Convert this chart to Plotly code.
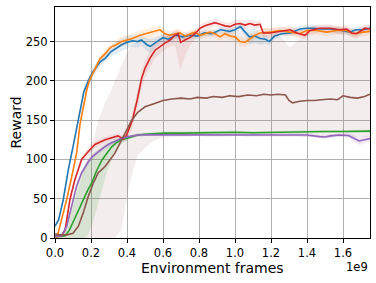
import plotly.graph_objects as go

# x values in units of 1e9 environment frames
blue_x = [0, 0.02, 0.046, 0.074, 0.10, 0.13, 0.16, 0.185, 0.21, 0.25, 0.28, 0.31, 0.34, 0.37, 0.40,
          0.43, 0.46, 0.48, 0.51, 0.53, 0.56, 0.60, 0.63, 0.67, 0.71, 0.75, 0.79, 0.83, 0.87, 0.92,
          0.97, 1.0, 1.03, 1.06, 1.08, 1.11, 1.14, 1.17, 1.19, 1.22, 1.26, 1.31, 1.36, 1.4, 1.44,
          1.48, 1.53, 1.57, 1.61, 1.64, 1.67, 1.71, 1.75]
blue_y = [15, 23, 49, 87, 116, 150, 186, 200, 211, 224, 229, 237, 242, 246, 249,
          251, 250, 252, 246, 244, 249, 255, 253, 258, 256, 258, 257, 261, 260, 265,
          263, 265, 269, 262, 256, 257, 254, 253, 250, 257, 260, 261, 266, 267, 267,
          266, 266, 265, 263, 262, 265, 265, 267]
blue_sd = [3, 3, 3, 3, 3, 4, 5, 6, 6, 5, 5, 6, 8, 8, 8, 8, 8, 7, 8, 9, 6, 5, 5, 5, 5, 4, 4, 4, 4, 4,
           4, 4, 4, 6, 10, 9, 8, 6, 5, 4, 4, 4, 4, 4, 4, 4, 4, 4, 4, 4, 4, 4, 4]

orange_x = [0.01, 0.037, 0.065, 0.093, 0.12, 0.139, 0.16, 0.176, 0.19, 0.22, 0.25, 0.28, 0.31, 0.34,
            0.37, 0.40, 0.43, 0.472, 0.528, 0.583, 0.611, 0.639, 0.667, 0.694, 0.722, 0.75, 0.778,
            0.806, 0.833, 0.861, 0.889, 0.917, 0.944, 0.972, 1.0, 1.028, 1.056, 1.083, 1.111, 1.139,
            1.194, 1.25, 1.306, 1.36, 1.398, 1.454, 1.51, 1.565, 1.62, 1.657, 1.713, 1.75]
orange_y = [0, 23, 49, 78, 108, 145, 170, 188, 200, 215, 228, 235, 243, 246,
            250, 252, 254, 258, 262, 265, 260, 258, 260, 261, 257, 260, 262,
            258, 260, 262, 260, 256, 260, 257, 256, 250, 249, 253, 258, 261,
            262, 264, 262, 260, 264, 264, 262, 264, 264, 260, 262, 263]
orange_sd = [2, 3, 3, 3, 4, 5, 5, 5, 5, 5, 5, 5, 5, 6, 6, 6, 6, 6, 6, 6, 5, 5, 5, 5, 5, 5, 5,
             5, 5, 5, 5, 5, 5, 5, 5, 6, 6, 5, 5, 5, 5, 5, 5, 5, 5, 5, 5, 5, 5, 5, 5, 5]

green_x = [0, 0.03, 0.056, 0.08, 0.1, 0.12, 0.139, 0.16, 0.18, 0.204, 0.23, 0.26, 0.29, 0.315, 0.34,
           0.37, 0.4, 0.426, 0.46, 0.5, 0.55, 0.61, 0.7, 0.8, 0.9, 1.0, 1.1, 1.2, 1.3, 1.4, 1.5,
           1.6, 1.7, 1.75]
green_y = [2, 2, 3, 10, 20, 30, 40, 52, 60, 70, 85, 99, 108, 116, 121,
           125, 127, 129, 131, 132, 133, 133.5, 133.5, 134, 134, 134.5, 134, 134.5, 135, 135, 135.5,
           135.5, 136, 136]
green_lo = [0, 0, 0, 0, 0, 0, 0, 0, 3, 15, 35, 60, 85, 100, 112,
            120, 124, 127, 129, 130, 131, 132, 132, 132, 132, 133, 132, 133, 133, 133, 134,
            134, 134, 134]
green_hi = [3, 5, 10, 30, 48, 62, 75, 90, 98, 105, 111, 116, 120, 123, 126,
            128, 130, 131, 133, 134, 135, 135.5, 135.5, 136, 136, 136.5, 136, 136.5, 137, 137, 137.5,
            137.5, 138, 138]

red_x = [0, 0.037, 0.056, 0.083, 0.11, 0.148, 0.185, 0.222, 0.278, 0.333, 0.35, 0.365, 0.38, 0.398,
         0.417, 0.43, 0.457, 0.481, 0.5, 0.528, 0.556, 0.583, 0.611, 0.639, 0.667, 0.685, 0.698,
         0.722, 0.75, 0.778, 0.806, 0.833, 0.861, 0.889, 0.917, 0.944, 0.972, 1.0, 1.028, 1.056,
         1.083, 1.11, 1.139, 1.157, 1.194, 1.25, 1.306, 1.343, 1.389, 1.417, 1.472, 1.528, 1.583,
         1.62, 1.648, 1.676, 1.722, 1.75]
red_y = [2, 3, 10, 49, 74, 100, 110, 119, 125, 129, 130, 128, 126, 131,
         142, 150, 176, 203, 216, 229, 239, 244, 248, 252, 258, 260, 249,
         252, 255, 260, 267, 270, 272, 274, 272, 270, 269, 272, 273, 271,
         273, 271, 272, 261, 261, 263, 265, 261, 258, 264, 267, 267, 265,
         266, 261, 260, 267, 266]
red_sd_lo = [1, 1, 3, 5, 5, 5, 5, 4, 4, 3, 3, 3, 4, 5, 8, 10, 12, 12, 12, 12, 10, 10, 8, 8, 13,
             35, 35, 20, 10, 6, 5, 5, 5, 5, 5, 5, 5, 5, 5, 5, 5, 5, 5, 6, 6, 5, 5, 5, 5, 5, 5,
             5, 5, 5, 5, 5, 5, 5]
red_sd_hi = [2, 2, 3, 5, 5, 5, 5, 4, 4, 3, 3, 3, 4, 5, 8, 10, 10, 10, 10, 10, 10, 10, 8, 8, 6,
             6, 8, 6, 6, 5, 5, 5, 5, 5, 5, 5, 5, 5, 5, 5, 5, 5, 5, 6, 6, 5, 5, 5, 5, 5, 5,
             5, 5, 5, 5, 5, 5, 5]

purple_x = [0, 0.037, 0.065, 0.093, 0.12, 0.148, 0.185, 0.21, 0.24, 0.27, 0.296, 0.33, 0.37, 0.41,
            0.46, 0.52, 0.6, 0.7, 0.8, 0.9, 1.0, 1.1, 1.2, 1.3, 1.4, 1.47, 1.5, 1.53, 1.58, 1.63,
            1.66, 1.69, 1.72, 1.75]
purple_y = [2, 3, 15, 40, 66, 83, 97, 104, 110, 115, 119, 123, 127, 129,
            131, 131.5, 131.5, 131.5, 131, 131.5, 131.5, 131, 131.5, 131.5, 131, 129, 128.5, 130,
            131, 130.5, 127, 123.5, 125, 126.5]
purple_sd = [1, 1, 3, 4, 4, 4, 4, 3, 3, 3, 3, 3, 2, 2, 2, 1.5, 1.5, 1.5, 1.5, 1.5, 1.5, 1.5,
             1.5, 1.5, 2, 2, 2, 2, 2, 3, 4, 5, 5, 4]

brown_x = [0, 0.03, 0.065, 0.1, 0.13, 0.157, 0.185, 0.213, 0.24, 0.278, 0.306, 0.333, 0.37, 0.398,
           0.426, 0.46, 0.5, 0.55, 0.6, 0.65, 0.7, 0.75, 0.79, 0.84, 0.88, 0.93, 0.97, 1.02, 1.07,
           1.12, 1.16, 1.2, 1.24, 1.28, 1.3, 1.32, 1.36, 1.4, 1.44, 1.48, 1.53, 1.57, 1.6, 1.64,
           1.68, 1.72, 1.75]
brown_y = [5, 4, 4, 6, 15, 32, 53, 70, 83, 91, 99.5, 108, 125, 138,
           150, 160, 167, 171, 175, 177, 178, 177, 179, 178, 180, 179, 181, 180, 182,
           181, 183, 182, 183, 182, 175, 172, 174, 175, 175, 176, 177, 176, 181, 179,
           178, 180, 183]
brown_lo = [0, 0, 0, 0, 0, 0, 0, 0, 0, 0, 0, 0, 10, 50,
            80, 105, 115, 124, 128, 129, 129, 129, 130, 129, 129, 129, 129, 130, 129,
            129, 129, 129, 129, 129, 129, 129, 129, 129, 129, 128, 128, 129, 129, 129,
            129, 129, 129]
brown_hi = [5, 6, 12, 40, 62, 85, 105, 125, 150, 172, 185, 200, 220, 235,
            245, 252, 255, 257, 258, 258, 256, 259, 260, 261, 262, 262, 263, 264, 262,
            260, 258, 258, 258, 250, 243, 245, 255, 260, 262, 263, 263, 262, 263, 262,
            260, 262, 262]

x_ticks = [0.0, 0.2, 0.4, 0.6, 0.8, 1.0, 1.2, 1.4, 1.6]
x_tick_labels = ["0.0", "0.2", "0.4", "0.6", "0.8", "1.0", "1.2", "1.4", "1.6"]
y_ticks = [0, 50, 100, 150, 200, 250]

series = [
    ("blue", "#1f77b4", (31, 119, 180), blue_x, blue_y,
     [y - s for y, s in zip(blue_y, blue_sd)], [y + s for y, s in zip(blue_y, blue_sd)], 0.12),
    ("orange", "#ff7f0e", (255, 127, 14), orange_x, orange_y,
     [y - s for y, s in zip(orange_y, orange_sd)], [y + s for y, s in zip(orange_y, orange_sd)], 0.12),
    ("green", "#2ca02c", (44, 160, 44), green_x, green_y, green_lo, green_hi, 0.14),
    ("red", "#d62728", (214, 39, 40), red_x, red_y,
     [y - s for y, s in zip(red_y, red_sd_lo)], [y + s for y, s in zip(red_y, red_sd_hi)], 0.1),
    ("purple", "#9467bd", (148, 103, 189), purple_x, purple_y,
     [y - s for y, s in zip(purple_y, purple_sd)], [y + s for y, s in zip(purple_y, purple_sd)], 0.15),
    ("brown", "#8c564b", (140, 86, 75), brown_x, brown_y, brown_lo, brown_hi, 0.1),
]

fig = go.Figure()
for name, col, rgb, xs, ys, lo, hi, a in series:
    fig.add_trace(go.Scatter(
        x=list(xs) + list(xs)[::-1], y=list(hi) + list(lo)[::-1],
        fill="toself", fillcolor=f"rgba({rgb[0]},{rgb[1]},{rgb[2]},{a})",
        line=dict(width=0), mode="lines", hoverinfo="skip", showlegend=False))
for name, col, rgb, xs, ys, lo, hi, a in series:
    fig.add_trace(go.Scatter(x=xs, y=ys, mode="lines", name=name,
                             line=dict(color=col, width=1.6), showlegend=False))

axis_common = dict(showgrid=True, gridcolor="#b0b0b0", gridwidth=0.8, showline=True,
                   linecolor="black", linewidth=1, mirror=True, ticks="outside", ticklen=4,
                   tickcolor="black", zeroline=False, automargin=False,
                   tickfont=dict(family="DejaVu Sans", size=11.5, color="black"))
fig.update_xaxes(range=[0, 1.75], tickvals=x_ticks, ticktext=x_tick_labels, **axis_common)
fig.update_yaxes(range=[0, 294], tickvals=y_ticks, **axis_common)

fig.update_layout(
    width=376, height=283, margin=dict(l=55, r=6, t=7, b=45, autoexpand=False),
    paper_bgcolor="white", plot_bgcolor="white",
    font=dict(family="DejaVu Sans", color="black"),
    annotations=[
        dict(text="Environment frames", xref="paper", yref="paper", x=0.5, y=0,
             xanchor="center", yanchor="middle", yshift=-30, showarrow=False,
             font=dict(size=14, family="DejaVu Sans", color="black")),
        dict(text="Reward", xref="paper", yref="paper", x=0, y=0.5, xshift=-40,
             xanchor="center", yanchor="middle", textangle=-90, showarrow=False,
             font=dict(size=14, family="DejaVu Sans", color="black")),
        dict(text="1e9", xref="paper", yref="paper", x=1, y=0, xanchor="right",
             yanchor="middle", yshift=-29, showarrow=False,
             font=dict(size=11.5, family="DejaVu Sans", color="black")),
    ],
)
fig.write_html("out.html", config={"displayModeBar": False},
               post_script="document.body.style.margin='0';document.body.style.padding='0';")
